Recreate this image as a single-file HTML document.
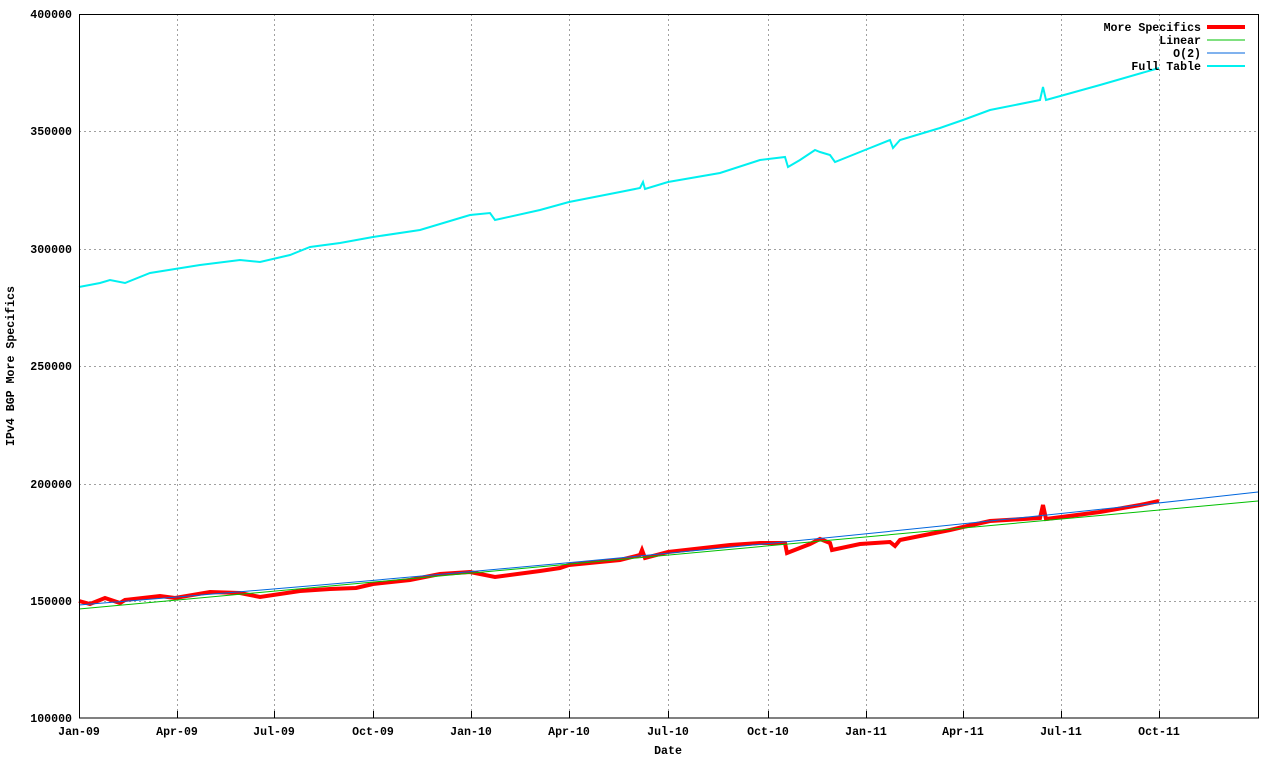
<!DOCTYPE html>
<html><head><meta charset="utf-8"><style>
body{margin:0;background:#fff}
svg text{font-family:"Liberation Mono","DejaVu Sans Mono",monospace;font-size:11.6px;font-weight:bold;fill:#000}
</style></head><body>
<svg width="1280" height="760" xmlns="http://www.w3.org/2000/svg">
<rect width="1280" height="760" fill="#fff"/>
<g stroke="#a0a0a0" stroke-dasharray="2,3" stroke-width="1">
<line x1="79" y1="131.5" x2="1258" y2="131.5"/>
<line x1="79" y1="249.5" x2="1258" y2="249.5"/>
<line x1="79" y1="366.5" x2="1258" y2="366.5"/>
<line x1="79" y1="484.5" x2="1258" y2="484.5"/>
<line x1="79" y1="601.5" x2="1258" y2="601.5"/>
<line x1="177.5" y1="14" x2="177.5" y2="718"/>
<line x1="274.5" y1="14" x2="274.5" y2="718"/>
<line x1="373.5" y1="14" x2="373.5" y2="718"/>
<line x1="471.5" y1="14" x2="471.5" y2="718"/>
<line x1="569.5" y1="14" x2="569.5" y2="718"/>
<line x1="668.5" y1="14" x2="668.5" y2="718"/>
<line x1="768.5" y1="14" x2="768.5" y2="718"/>
<line x1="866.5" y1="14" x2="866.5" y2="718"/>
<line x1="963.5" y1="14" x2="963.5" y2="718"/>
<line x1="1061.5" y1="14" x2="1061.5" y2="718"/>
<line x1="1159.5" y1="14" x2="1159.5" y2="718"/>
</g>
<g stroke="#000" stroke-width="1">
<line x1="177.5" y1="711" x2="177.5" y2="718"/><line x1="274.5" y1="711" x2="274.5" y2="718"/>
<line x1="373.5" y1="711" x2="373.5" y2="718"/><line x1="471.5" y1="711" x2="471.5" y2="718"/>
<line x1="569.5" y1="711" x2="569.5" y2="718"/><line x1="668.5" y1="711" x2="668.5" y2="718"/>
<line x1="768.5" y1="711" x2="768.5" y2="718"/><line x1="866.5" y1="711" x2="866.5" y2="718"/>
<line x1="963.5" y1="711" x2="963.5" y2="718"/><line x1="1061.5" y1="711" x2="1061.5" y2="718"/>
<line x1="1159.5" y1="711" x2="1159.5" y2="718"/>
</g>
<polyline fill="none" stroke="#00f0f0" stroke-width="2" points="79,287 100,283 110,280 125,283 150,273 200,265 240,260 260,262 290,255 310,247 340,243 373,237 420,230 460,218 470,215 490,213 495,220 540,210 569,202 620,192 640,188 643,182 645,189 668,182 720,173 760,160 785,157 788,167 800,160 815,150 820,152 830,155 835,162 865,150 890,140 893,148 900,140 940,128 963,120 990,110 1040,100 1043,87 1046,100 1100,85 1159,68"/>
<polyline fill="none" stroke="#ff0000" stroke-width="4" points="79,601 90,604 105,598 120,603 125,600 160,596 175,598 210,592 240,593 260,597 300,591 330,589 356,588 373,584 410,580 440,574 470,572 495,577 540,571 560,568 569,565 620,560 640,555 642,550 645,558 668,552 730,545 760,543 785,543 787,553 810,544 820,539 830,543 832,550 860,544 890,542 895,546 900,540 950,530 963,527 990,521 1040,518 1043,505 1046,519 1100,512 1140,505 1159,501"/>
<line x1="79" y1="609" x2="1258" y2="501" stroke="#00c000" stroke-width="1"/>
<path d="M79,605 Q668,558 1258,492" fill="none" stroke="#0066dd" stroke-width="1"/>
<rect x="79.5" y="14.5" width="1179" height="703.5" fill="none" stroke="#000" stroke-width="1"/>
<g text-anchor="end">
<text x="72" y="18">400000</text><text x="72" y="135">350000</text><text x="72" y="253">300000</text>
<text x="72" y="370">250000</text><text x="72" y="488">200000</text><text x="72" y="605">150000</text>
<text x="72" y="722">100000</text>
</g>
<g text-anchor="middle">
<text x="79" y="735">Jan-09</text><text x="177" y="735">Apr-09</text><text x="274" y="735">Jul-09</text>
<text x="373" y="735">Oct-09</text><text x="471" y="735">Jan-10</text><text x="569" y="735">Apr-10</text>
<text x="668" y="735">Jul-10</text><text x="768" y="735">Oct-10</text><text x="866" y="735">Jan-11</text>
<text x="963" y="735">Apr-11</text><text x="1061" y="735">Jul-11</text><text x="1159" y="735">Oct-11</text>
<text x="668" y="754">Date</text>
<text transform="translate(14,366) rotate(-90)">IPv4 BGP More Specifics</text>
</g>
<g text-anchor="end">
<text x="1201" y="31">More Specifics</text><text x="1201" y="44">Linear</text>
<text x="1201" y="57">O(2)</text><text x="1201" y="70">Full Table</text>
</g>
<line x1="1207" y1="27" x2="1245" y2="27" stroke="#ff0000" stroke-width="4"/>
<line x1="1207" y1="40" x2="1245" y2="40" stroke="#00c000" stroke-width="1"/>
<line x1="1207" y1="53" x2="1245" y2="53" stroke="#0066dd" stroke-width="1"/>
<line x1="1207" y1="66" x2="1245" y2="66" stroke="#00f0f0" stroke-width="2"/>
</svg>
</body></html>
